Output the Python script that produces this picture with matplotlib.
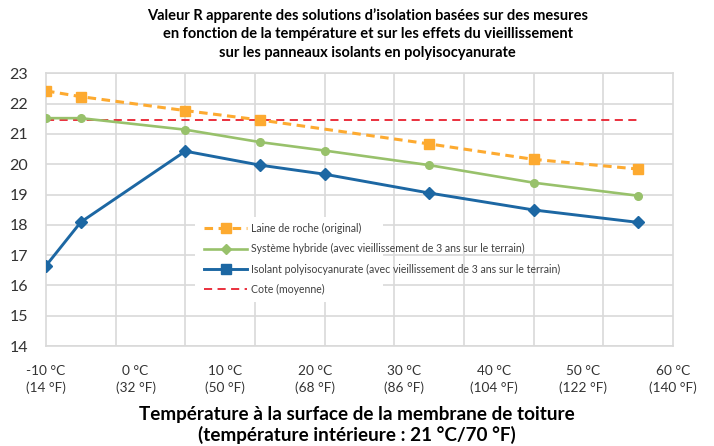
import numpy as np
import matplotlib
matplotlib.use('Agg')
import matplotlib.pyplot as plt
from matplotlib.lines import Line2D
from matplotlib.patches import Rectangle

plt.rcParams['font.family'] = ['Lato', 'DejaVu Sans']

# données (x en °F)
temp_f = [14, 21, 42, 57, 70, 91, 112, 133]
laine_x = [14, 21, 42, 57, 91, 112, 133]
laine_roche = [22.42, 22.23, 21.77, 21.46, 20.67, 20.16, 19.84]
hybride = [21.52, 21.52, 21.14, 20.73, 20.45, 19.97, 19.39, 18.96]
polyiso = [16.65, 18.09, 20.43, 19.97, 19.67, 19.05, 18.49, 18.08]
cote_x = [14, 133]
cote = [21.45, 21.45]

tick_c = [-10, 0, 10, 20, 30, 40, 50, 60]
tick_f = [14, 32, 50, 68, 86, 104, 122, 140]
grid_f = np.arange(14, 141, 14)

noms = ['Laine de roche (original)',
        'Système hybride (avec vieillissement de 3 ans sur le terrain)',
        'Isolant polyisocyanurate (avec vieillissement de 3 ans sur le terrain)',
        'Cote (moyenne)']

c_orange = '#FDAA30'
c_vert = '#98C16B'
c_bleu = '#1C67A3'
c_rouge = '#E8202E'
c_grille = '#D9D9D9'

fig = plt.figure(figsize=(7.14, 4.46), dpi=100)
ax = fig.add_axes([0.0644, 0.2242, 0.8782, 0.6114])

ax.plot(cote_x, cote, color=c_rouge, lw=1.3, dashes=(4.5, 3), zorder=3)
ax.plot(laine_x, laine_roche, color=c_orange, lw=2.2, dashes=(2.8, 1.8),
        marker='s', ms=7.5, zorder=4)
ax.plot(temp_f, hybride, color=c_vert, lw=1.9, marker='o', ms=5.5, zorder=4)
ax.plot(temp_f, polyiso, color=c_bleu, lw=2.1, marker='D', ms=6.5, zorder=5)

ax.set_xlim(14, 140)
ax.set_ylim(14, 23)
ax.set_yticks(range(14, 24))
ax.set_xticks(grid_f, minor=True)
ax.set_xticks(tick_f)
ax.set_xticklabels(['%d °C\n(%d °F)' % (c, f) for c, f in zip(tick_c, tick_f)],
                   fontsize=9.8, color='#333333', linespacing=1.4)
ax.tick_params(axis='x', which='both', length=0, pad=14)
ax.tick_params(axis='y', length=0, labelsize=11.5, labelcolor='#333333', pad=13)
ax.grid(False)
ax.grid(True, axis='x', which='minor', color=c_grille, lw=1.2)
ax.grid(True, axis='y', which='major', color=c_grille, lw=1.2)
ax.set_axisbelow(True)
for s in ax.spines.values():
    s.set_color(c_grille)
    s.set_linewidth(1.2)

# fond blanc de la légende (plus étroit que le texte, comme dans Excel)
ax.add_patch(Rectangle((0.238, 0.161), 0.299, 0.312, transform=ax.transAxes,
                       facecolor='white', edgecolor='none', zorder=2))

poignees = [
    Line2D([], [], color=c_orange, lw=2.2, dashes=(2.8, 1.8), marker='s', ms=7.5),
    Line2D([], [], color=c_vert, lw=1.9, marker='D', ms=5.5),
    Line2D([], [], color=c_bleu, lw=2.1, marker='s', ms=6.5),
    Line2D([], [], color=c_rouge, lw=1.3, dashes=(4.5, 3)),
]
leg = ax.legend(poignees, noms, loc='upper left', bbox_to_anchor=(0.246, 0.467),
                frameon=False, fontsize=7.6, handlelength=4.0, handletextpad=0.45,
                labelspacing=0.88, borderaxespad=0)
for t in leg.get_texts():
    t.set_color('#404040')

fig.text(0.515, 0.982,
         'Valeur R apparente des solutions d’isolation basées sur des mesures\n'
         'en fonction de la température et sur les effets du vieillissement\n'
         'sur les panneaux isolants en polyisocyanurate',
         ha='center', va='top', fontsize=10.5, fontweight='bold', linespacing=1.42)
fig.text(0.5, 0.005,
         'Température à la surface de la membrane de toiture\n'
         '(température intérieure : 21 °C/70 °F)',
         ha='center', va='bottom', fontsize=13.6, fontweight='bold', linespacing=1.15)

fig.savefig('out.png', dpi=100)
